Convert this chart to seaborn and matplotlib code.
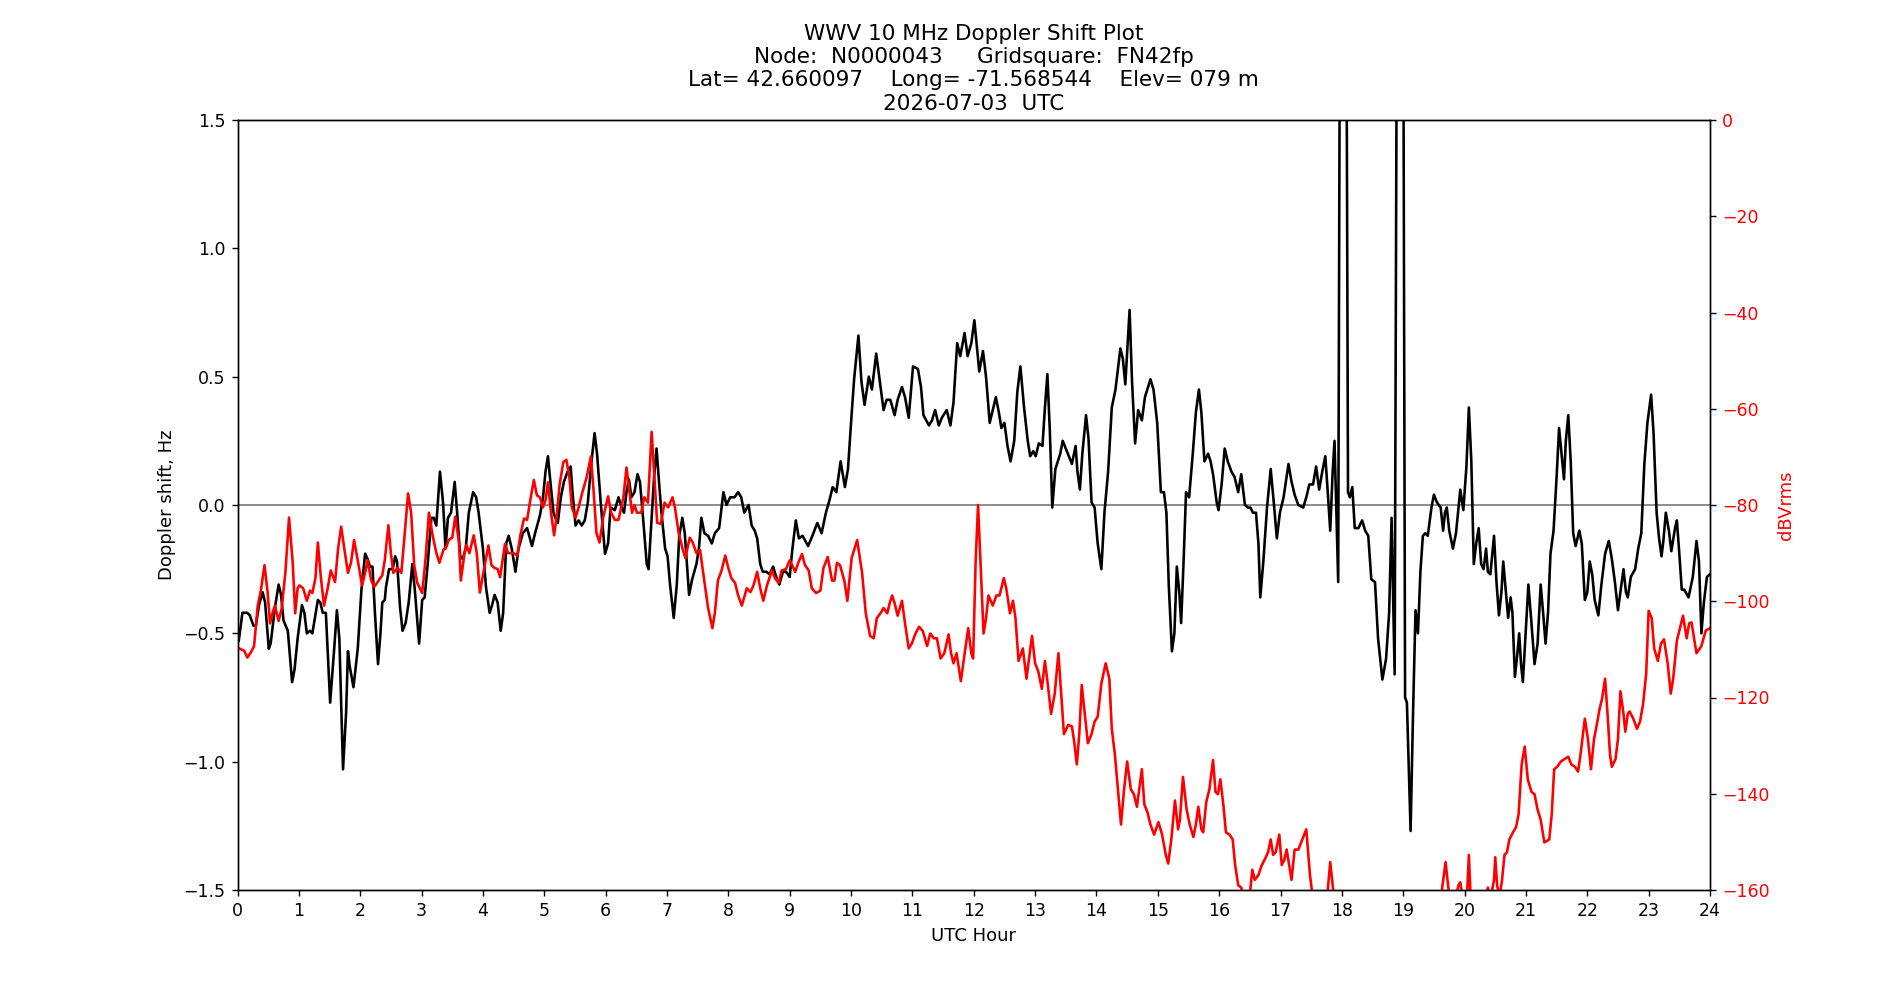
import pandas as pd
import matplotlib
matplotlib.use("Agg")
import matplotlib.pyplot as plt
import seaborn as sns

# === DATA ===
TITLE = ("WWV 10 MHz Doppler Shift Plot\n"
         "Node:  N0000043     Gridsquare:  FN42fp\n"
         "Lat= 42.660097    Long= -71.568544    Elev= 079 m\n"
         "2026-07-03  UTC")

doppler_hours = [
    0.00, 0.02, 0.08, 0.16, 0.20, 0.26, 0.30, 0.35, 0.41, 0.45, 0.51, 0.54, 0.61, 0.67, 0.71, 0.75,
    0.82, 0.89, 0.93, 0.98, 1.05, 1.09, 1.13, 1.18, 1.22, 1.31, 1.35, 1.39, 1.44, 1.51, 1.57, 1.62,
    1.66, 1.72, 1.77, 1.80, 1.83, 1.89, 1.96, 2.02, 2.08, 2.12, 2.16, 2.20, 2.24, 2.29, 2.33, 2.36,
    2.40, 2.42, 2.47, 2.53, 2.57, 2.60, 2.65, 2.69, 2.74, 2.79, 2.85, 2.89, 2.96, 3.01, 3.05, 3.10,
    3.16, 3.20, 3.24, 3.30, 3.35, 3.39, 3.43, 3.48, 3.54, 3.58, 3.63, 3.67, 3.72, 3.77, 3.84, 3.89,
    3.93, 3.97, 4.00, 4.05, 4.11, 4.15, 4.19, 4.24, 4.29, 4.33, 4.38, 4.42, 4.47, 4.53, 4.58, 4.65,
    4.72, 4.80, 4.85, 4.93, 4.98, 5.02, 5.06, 5.10, 5.15, 5.18, 5.22, 5.27, 5.32, 5.38, 5.43, 5.46,
    5.51, 5.56, 5.61, 5.66, 5.71, 5.77, 5.82, 5.86, 5.92, 5.99, 6.04, 6.08, 6.15, 6.21, 6.26, 6.30,
    6.34, 6.38, 6.42, 6.47, 6.52, 6.56, 6.61, 6.67, 6.70, 6.74, 6.79, 6.83, 6.87, 6.91, 6.97, 7.01,
    7.05, 7.11, 7.16, 7.20, 7.25, 7.29, 7.36, 7.41, 7.48, 7.52, 7.56, 7.61, 7.67, 7.73, 7.78, 7.85,
    7.92, 7.97, 8.03, 8.10, 8.16, 8.21, 8.26, 8.33, 8.38, 8.43, 8.47, 8.52, 8.56, 8.62, 8.67, 8.73,
    8.78, 8.83, 8.89, 8.94, 9.00, 9.04, 9.10, 9.15, 9.21, 9.30, 9.37, 9.45, 9.52, 9.59, 9.65, 9.70,
    9.76, 9.83, 9.90, 9.95, 10.00, 10.05, 10.12, 10.17, 10.22, 10.29, 10.34, 10.41, 10.47, 10.53,
    10.58, 10.64, 10.71, 10.76, 10.83, 10.88, 10.94, 11.01, 11.09, 11.14, 11.18, 11.27, 11.32, 11.37,
    11.43, 11.48, 11.56, 11.62, 11.67, 11.73, 11.78, 11.85, 11.90, 11.96, 12.01, 12.09, 12.15, 12.20,
    12.26, 12.30, 12.36, 12.41, 12.45, 12.50, 12.55, 12.60, 12.66, 12.71, 12.76, 12.82, 12.88, 12.92,
    12.97, 13.01, 13.06, 13.12, 13.16, 13.20, 13.24, 13.28, 13.33, 13.37, 13.41, 13.45, 13.50, 13.55,
    13.60, 13.66, 13.69, 13.73, 13.77, 13.83, 13.87, 13.92, 13.97, 14.02, 14.08, 14.13, 14.19, 14.25,
    14.31, 14.39, 14.43, 14.47, 14.54, 14.58, 14.63, 14.68, 14.74, 14.79, 14.88, 14.93, 14.99, 15.05,
    15.10, 15.14, 15.18, 15.23, 15.27, 15.31, 15.35, 15.38, 15.42, 15.46, 15.51, 15.57, 15.62, 15.67,
    15.71, 15.76, 15.82, 15.86, 15.90, 15.96, 15.99, 16.04, 16.09, 16.14, 16.20, 16.25, 16.31, 16.36,
    16.42, 16.47, 16.51, 16.55, 16.60, 16.64, 16.67, 16.72, 16.78, 16.84, 16.89, 16.94, 16.99, 17.05,
    17.13, 17.18, 17.23, 17.29, 17.37, 17.42, 17.47, 17.53, 17.58, 17.63, 17.68, 17.73, 17.77, 17.81,
    17.85, 17.88, 17.91, 17.94, 17.98, 18.06, 18.10, 18.13, 18.17, 18.21, 18.27, 18.33, 18.38, 18.43,
    18.48, 18.54, 18.59, 18.66, 18.72, 18.77, 18.81, 18.84, 18.86, 18.91, 18.99, 19.03, 19.06, 19.12,
    19.16, 19.20, 19.24, 19.28, 19.32, 19.36, 19.40, 19.46, 19.50, 19.55, 19.61, 19.65, 19.68, 19.71,
    19.75, 19.81, 19.86, 19.93, 19.98, 20.03, 20.07, 20.11, 20.15, 20.19, 20.23, 20.27, 20.31, 20.35,
    20.38, 20.42, 20.48, 20.52, 20.56, 20.60, 20.63, 20.68, 20.71, 20.75, 20.78, 20.82, 20.86, 20.89,
    20.92, 20.95, 20.99, 21.04, 21.09, 21.14, 21.19, 21.24, 21.28, 21.32, 21.36, 21.40, 21.45, 21.50,
    21.54, 21.58, 21.62, 21.65, 21.69, 21.73, 21.77, 21.81, 21.87, 21.91, 21.96, 22.00, 22.04, 22.08,
    22.12, 22.18, 22.23, 22.29, 22.35, 22.40, 22.45, 22.50, 22.54, 22.59, 22.63, 22.66, 22.71, 22.78,
    22.83, 22.88, 22.93, 22.98, 23.04, 23.08, 23.13, 23.17, 23.21, 23.24, 23.28, 23.33, 23.37, 23.43,
    23.46, 23.50, 23.54, 23.58, 23.65, 23.72, 23.78, 23.82, 23.86, 23.90, 23.95, 24.00,
]
doppler_hz = [
    -0.52, -0.53, -0.42, -0.42, -0.43, -0.47, -0.47, -0.39, -0.34, -0.38, -0.56, -0.54, -0.40, -0.31, -0.35, -0.45,
    -0.49, -0.69, -0.64, -0.52, -0.39, -0.42, -0.50, -0.49, -0.50, -0.37, -0.38, -0.42, -0.42, -0.77, -0.58, -0.41,
    -0.52, -1.03, -0.81, -0.57, -0.63, -0.71, -0.56, -0.33, -0.19, -0.21, -0.24, -0.24, -0.42, -0.62, -0.50, -0.38,
    -0.37, -0.32, -0.25, -0.25, -0.20, -0.22, -0.40, -0.49, -0.46, -0.38, -0.23, -0.33, -0.54, -0.37, -0.36, -0.23,
    -0.05, -0.05, -0.08, 0.13, 0.01, -0.17, -0.05, -0.03, 0.09, -0.03, -0.20, -0.21, -0.17, -0.03, 0.05, 0.03,
    -0.03, -0.11, -0.17, -0.32, -0.42, -0.39, -0.35, -0.38, -0.49, -0.42, -0.15, -0.12, -0.17, -0.26, -0.17, -0.11,
    -0.09, -0.16, -0.11, -0.04, 0.03, 0.13, 0.19, 0.09, -0.03, -0.05, -0.07, 0.03, 0.09, 0.13, 0.15, 0.05,
    -0.08, -0.06, -0.08, -0.06, 0.01, 0.17, 0.28, 0.20, 0.01, -0.19, -0.15, -0.01, -0.02, 0.03, -0.01, -0.03,
    0.05, 0.10, 0.03, 0.05, 0.12, 0.09, -0.05, -0.23, -0.25, -0.09, 0.11, 0.22, 0.09, -0.03, -0.17, -0.20,
    -0.31, -0.44, -0.31, -0.12, -0.05, -0.11, -0.35, -0.29, -0.23, -0.17, -0.05, -0.11, -0.12, -0.15, -0.11, -0.09,
    0.05, 0.00, 0.03, 0.03, 0.05, 0.03, -0.03, 0.00, -0.08, -0.10, -0.13, -0.23, -0.26, -0.26, -0.27, -0.24,
    -0.28, -0.31, -0.26, -0.26, -0.28, -0.18, -0.06, -0.13, -0.12, -0.16, -0.12, -0.07, -0.11, -0.03, 0.02, 0.07,
    0.05, 0.17, 0.07, 0.14, 0.32, 0.49, 0.66, 0.48, 0.39, 0.50, 0.45, 0.59, 0.48, 0.37,
    0.41, 0.41, 0.35, 0.41, 0.46, 0.42, 0.34, 0.54, 0.53, 0.46, 0.35, 0.31, 0.33, 0.37,
    0.31, 0.34, 0.37, 0.31, 0.40, 0.63, 0.58, 0.67, 0.58, 0.63, 0.72, 0.52, 0.60, 0.50,
    0.32, 0.36, 0.42, 0.36, 0.30, 0.32, 0.23, 0.17, 0.25, 0.44, 0.54, 0.38, 0.25, 0.19,
    0.21, 0.19, 0.24, 0.23, 0.38, 0.51, 0.29, -0.01, 0.14, 0.17, 0.20, 0.25, 0.22, 0.19,
    0.16, 0.23, 0.13, 0.06, 0.20, 0.35, 0.26, 0.01, -0.01, -0.15, -0.25, -0.03, 0.13, 0.38,
    0.45, 0.61, 0.57, 0.47, 0.76, 0.48, 0.24, 0.37, 0.33, 0.42, 0.49, 0.45, 0.32, 0.05,
    0.05, -0.03, -0.32, -0.57, -0.50, -0.24, -0.34, -0.46, -0.22, 0.05, 0.03, 0.20, 0.36, 0.45,
    0.36, 0.17, 0.20, 0.17, 0.12, 0.01, -0.02, 0.08, 0.22, 0.17, 0.13, 0.11, 0.05, 0.12,
    0.00, -0.01, -0.01, -0.03, -0.03, -0.15, -0.36, -0.22, -0.01, 0.14, 0.01, -0.13, -0.03, 0.03,
    0.16, 0.09, 0.04, 0.00, -0.01, 0.03, 0.08, 0.08, 0.15, 0.06, 0.13, 0.19, 0.05, -0.10,
    0.13, 0.25, -0.03, -0.30, 3.00, 3.00, 0.05, 0.03, 0.07, -0.09, -0.09, -0.06, -0.10, -0.12,
    -0.29, -0.30, -0.52, -0.68, -0.60, -0.42, -0.05, -0.42, -0.66, 3.00, 3.00, -0.75, -0.77, -1.27,
    -0.81, -0.41, -0.50, -0.26, -0.12, -0.11, -0.12, -0.01, 0.04, 0.01, -0.01, -0.10, -0.03, -0.01,
    -0.10, -0.17, -0.11, 0.06, -0.02, 0.15, 0.38, 0.17, -0.23, -0.15, -0.09, -0.23, -0.25, -0.17,
    -0.26, -0.27, -0.12, -0.30, -0.43, -0.34, -0.22, -0.36, -0.44, -0.36, -0.42, -0.67, -0.58, -0.50,
    -0.62, -0.69, -0.52, -0.31, -0.46, -0.62, -0.54, -0.31, -0.42, -0.54, -0.42, -0.19, -0.10, 0.11,
    0.30, 0.20, 0.10, 0.25, 0.35, 0.17, -0.11, -0.16, -0.10, -0.15, -0.37, -0.34, -0.22, -0.27,
    -0.37, -0.43, -0.31, -0.19, -0.14, -0.21, -0.30, -0.41, -0.34, -0.25, -0.34, -0.36, -0.28, -0.25,
    -0.17, -0.11, 0.16, 0.32, 0.43, 0.28, -0.03, -0.13, -0.20, -0.14, -0.03, -0.10, -0.18, -0.09,
    -0.06, -0.19, -0.33, -0.33, -0.36, -0.28, -0.14, -0.22, -0.50, -0.38, -0.28, -0.27,
]

power_hours = [
    0.00, 0.06, 0.11, 0.16, 0.22, 0.27, 0.33, 0.38, 0.44, 0.49, 0.53, 0.57, 0.61, 0.67, 0.72, 0.78,
    0.84, 0.90, 0.94, 0.98, 1.01, 1.07, 1.13, 1.18, 1.22, 1.27, 1.31, 1.36, 1.41, 1.47, 1.52, 1.59,
    1.64, 1.69, 1.74, 1.80, 1.85, 1.90, 1.96, 2.03, 2.08, 2.12, 2.18, 2.23, 2.30, 2.36, 2.40, 2.46,
    2.50, 2.54, 2.61, 2.67, 2.72, 2.78, 2.83, 2.88, 2.93, 3.01, 3.06, 3.12, 3.18, 3.24, 3.29, 3.36,
    3.40, 3.44, 3.50, 3.55, 3.61, 3.64, 3.70, 3.73, 3.78, 3.85, 3.90, 3.95, 4.03, 4.09, 4.14, 4.19,
    4.24, 4.28, 4.32, 4.36, 4.41, 4.46, 4.50, 4.56, 4.61, 4.67, 4.72, 4.78, 4.83, 4.88, 4.93, 4.98,
    5.02, 5.06, 5.11, 5.16, 5.20, 5.25, 5.31, 5.36, 5.41, 5.45, 5.51, 5.56, 5.62, 5.69, 5.76, 5.80,
    5.85, 5.90, 5.96, 6.04, 6.09, 6.15, 6.21, 6.29, 6.34, 6.39, 6.43, 6.47, 6.51, 6.58, 6.63, 6.69,
    6.75, 6.79, 6.84, 6.90, 6.96, 7.02, 7.09, 7.13, 7.19, 7.25, 7.30, 7.37, 7.42, 7.48, 7.54, 7.59,
    7.67, 7.74, 7.78, 7.83, 7.89, 7.95, 8.00, 8.05, 8.11, 8.16, 8.22, 8.30, 8.36, 8.41, 8.47, 8.52,
    8.57, 8.63, 8.71, 8.76, 8.82, 8.87, 8.94, 9.00, 9.04, 9.09, 9.14, 9.20, 9.25, 9.31, 9.36, 9.43,
    9.50, 9.55, 9.62, 9.69, 9.73, 9.77, 9.82, 9.89, 9.94, 10.01, 10.10, 10.18, 10.24, 10.31, 10.37, 10.42,
    10.48, 10.53, 10.59, 10.63, 10.67, 10.71, 10.76, 10.83, 10.88, 10.94, 10.99, 11.05, 11.11, 11.17,
    11.24, 11.29, 11.35, 11.40, 11.46, 11.52, 11.59, 11.63, 11.67, 11.72, 11.79, 11.85, 11.91, 11.96,
    11.99, 12.03, 12.07, 12.11, 12.16, 12.20, 12.24, 12.31, 12.37, 12.42, 12.49, 12.53, 12.59, 12.64,
    12.68, 12.73, 12.80, 12.86, 12.90, 12.95, 13.00, 13.05, 13.11, 13.16, 13.21, 13.26, 13.32, 13.38,
    13.42, 13.47, 13.54, 13.60, 13.64, 13.68, 13.72, 13.76, 13.81, 13.86, 13.92, 13.97, 14.02, 14.08,
    14.15, 14.21, 14.25, 14.30, 14.35, 14.40, 14.45, 14.50, 14.56, 14.61, 14.66, 14.74, 14.78, 14.83,
    14.88, 14.94, 15.01, 15.07, 15.13, 15.17, 15.22, 15.28, 15.33, 15.36, 15.41, 15.47, 15.52, 15.58,
    15.62, 15.66, 15.71, 15.74, 15.79, 15.84, 15.90, 15.94, 15.98, 16.02, 16.07, 16.11, 16.17, 16.22,
    16.26, 16.31, 16.36, 16.40, 16.45, 16.50, 16.54, 16.58, 16.64, 16.69, 16.76, 16.80, 16.84, 16.88,
    16.92, 16.98, 17.02, 17.06, 17.10, 17.14, 17.18, 17.23, 17.29, 17.34, 17.42, 17.48, 17.52, 17.58,
    17.65, 17.72, 17.77, 17.81, 17.85, 17.90, 18.00, 18.30, 18.60, 18.90, 19.20, 19.45, 19.62, 19.69,
    19.73, 19.76, 19.85, 19.90, 19.93, 19.97, 20.04, 20.07, 20.10, 20.20, 20.33, 20.38, 20.42, 20.48,
    20.50, 20.53, 20.57, 20.61, 20.65, 20.69, 20.73, 20.79, 20.84, 20.88, 20.93, 20.98, 21.03, 21.09,
    21.14, 21.19, 21.24, 21.30, 21.38, 21.42, 21.46, 21.51, 21.57, 21.63, 21.69, 21.74, 21.80, 21.85,
    21.89, 21.96, 22.01, 22.06, 22.11, 22.15, 22.20, 22.24, 22.29, 22.33, 22.37, 22.40, 22.46, 22.50,
    22.54, 22.59, 22.62, 22.66, 22.69, 22.75, 22.81, 22.86, 22.91, 22.96, 23.00, 23.05, 23.09, 23.15,
    23.20, 23.25, 23.31, 23.36, 23.40, 23.46, 23.51, 23.56, 23.62, 23.66, 23.70, 23.74, 23.78, 23.86,
    23.93, 24.00,
]
power_dbv = [
    -109.6, -110.0, -110.3, -111.7, -110.6, -109.3, -100.9, -97.8, -92.5, -98.0, -104.6, -102.5, -100.9, -104.1, -101.5, -94.1,
    -82.6, -92.0, -102.5, -97.3, -96.7, -97.3, -99.9, -97.8, -98.3, -95.2, -87.8, -95.2, -100.9, -97.3, -93.6, -96.0,
    -89.0, -84.5, -89.0, -94.1, -92.0, -87.3, -91.5, -96.7, -94.1, -91.5, -95.7, -97.0, -95.7, -94.6, -91.5, -84.2,
    -90.0, -94.1, -93.1, -94.1, -86.8, -77.6, -81.6, -92.5, -96.2, -98.3, -92.0, -81.6, -86.3, -89.9, -92.0, -89.2,
    -88.9, -87.3, -86.8, -82.4, -87.8, -95.7, -90.0, -88.3, -90.0, -86.3, -90.0, -98.2, -92.5, -88.4, -92.5, -93.1,
    -93.3, -95.0, -91.5, -88.1, -90.0, -90.0, -90.0, -90.5, -86.3, -82.8, -83.1, -78.4, -74.8, -78.0, -78.4, -80.5,
    -79.0, -75.3, -81.6, -86.3, -82.6, -75.8, -71.1, -70.6, -74.3, -80.5, -82.6, -80.5, -77.4, -74.3, -69.9, -76.4,
    -85.8, -87.8, -82.6, -78.2, -81.6, -83.1, -83.1, -78.4, -72.2, -77.4, -81.6, -80.0, -81.6, -81.6, -78.4, -79.5,
    -64.8, -73.2, -83.7, -83.9, -79.5, -80.5, -78.4, -80.5, -85.8, -88.9, -91.0, -86.8, -87.8, -90.0, -89.4, -94.1,
    -101.4, -105.6, -102.5, -95.7, -93.6, -90.5, -93.1, -95.2, -96.2, -98.8, -100.9, -97.3, -98.1, -96.7, -93.9, -97.3,
    -99.9, -96.7, -93.6, -95.2, -96.2, -93.6, -93.3, -91.5, -92.5, -93.9, -92.0, -90.2, -92.5, -93.6, -97.3, -98.3,
    -97.8, -93.1, -90.8, -95.7, -95.7, -92.0, -92.5, -95.7, -99.9, -91.0, -87.3, -94.1, -102.5, -107.2, -107.7, -103.5,
    -102.5, -101.4, -102.5, -100.4, -98.8, -100.4, -103.0, -99.9, -104.6, -109.8, -108.8, -106.7, -105.3, -106.2,
    -109.3, -106.7, -107.7, -107.7, -111.9, -110.8, -106.9, -110.8, -112.9, -110.8, -116.6, -111.0, -105.6, -110.8,
    -111.9, -92.0, -80.0, -92.0, -106.7, -103.5, -98.8, -100.9, -98.8, -98.8, -95.2, -97.3, -102.5, -99.9,
    -103.5, -112.4, -109.8, -116.1, -112.0, -107.2, -112.9, -114.5, -118.2, -112.4, -117.6, -123.4, -119.2, -110.8,
    -118.2, -127.6, -125.7, -126.0, -129.5, -133.9, -127.6, -117.4, -123.4, -129.5, -127.6, -125.0, -124.0, -117.1,
    -112.9, -116.1, -126.5, -131.8, -139.1, -146.4, -139.1, -133.3, -139.1, -140.1, -142.7, -134.9, -142.2, -143.8,
    -146.4, -148.5, -145.9, -148.5, -152.7, -154.5, -149.5, -141.4, -147.4, -145.4, -136.5, -143.3, -146.4, -149.0,
    -146.4, -142.7, -147.4, -148.0, -141.7, -139.1, -133.0, -139.6, -140.1, -137.0, -142.5, -148.0, -148.5, -149.5,
    -154.8, -159.0, -159.5, -162.0, -162.0, -161.0, -155.8, -157.9, -156.9, -155.0, -153.2, -152.0, -149.5, -152.7,
    -152.2, -148.5, -154.8, -153.8, -151.6, -154.8, -157.9, -151.6, -151.6, -150.0, -147.4, -156.9, -161.0, -163.0,
    -164.0, -163.0, -160.0, -154.2, -159.0, -165.0, -168.0, -170.0, -172.0, -170.0, -168.0, -166.0, -161.0, -154.2,
    -158.9, -162.0, -162.0, -159.0, -158.4, -162.0, -161.0, -152.7, -162.0, -164.0, -162.0, -159.5, -162.0, -157.9,
    -153.2, -159.0, -161.5, -158.0, -152.7, -152.2, -149.5, -148.0, -146.9, -144.3, -133.9, -130.2, -137.0, -139.6,
    -140.1, -143.3, -145.4, -150.1, -149.5, -144.3, -134.9, -134.4, -133.3, -132.8, -132.3, -133.9, -134.4, -135.4,
    -131.8, -124.4, -128.6, -134.9, -128.6, -126.0, -122.4, -120.3, -116.1, -123.4, -131.8, -134.4, -132.8, -128.6,
    -118.7, -123.4, -127.1, -123.4, -122.9, -124.4, -126.5, -125.0, -121.3, -115.0, -102.0, -103.5, -109.8, -112.4,
    -108.8, -107.9, -112.9, -119.2, -116.1, -108.2, -105.6, -103.0, -107.7, -104.6, -104.4, -107.7, -110.8, -109.3,
    -106.1, -105.6,
]

hour_ticks = list(range(0, 25))
db_ticks = [0, -20, -40, -60, -80, -100, -120, -140, -160]


def build_frames():
    """Put the two traces into small DataFrames for seaborn."""
    doppler = pd.DataFrame({'hour': doppler_hours, 'shift': doppler_hz})
    power = pd.DataFrame({'hour': power_hours, 'dbv': power_dbv})
    return doppler, power


def generate_chart(doppler, power):
    fig, ax = plt.subplots(figsize=(15.2, 8), dpi=125)

    # Doppler shift (left axis)
    ax.axhline(0, color='grey', linewidth=1)
    sns.lineplot(data=doppler, x='hour', y='shift', ax=ax, color='black',
                 linewidth=1.5, estimator=None, sort=False)
    ax.set_xlim(0, 24)
    ax.set_ylim(-1.5, 1.5)
    ax.set_xticks(hour_ticks)
    ax.set_xlabel('UTC Hour', fontsize=10.4)
    ax.set_ylabel('Doppler shift, Hz', fontsize=10.4)
    ax.set_title(TITLE, fontsize=12.4)

    # Received power (right axis)
    ax2 = ax.twinx()
    sns.lineplot(data=power, x='hour', y='dbv', ax=ax2, color='red',
                 linewidth=1.5, estimator=None, sort=False)
    ax2.set_ylim(-160, 0)
    ax2.set_yticks(db_ticks)
    ax2.set_ylabel('dBVrms', color='red', fontsize=10.4)
    ax2.tick_params(axis='y', labelcolor='red')
    ax2.set_xlim(0, 24)

    fig.savefig('out.png', dpi=125)


if __name__ == "__main__":
    doppler_df, power_df = build_frames()
    generate_chart(doppler_df, power_df)
